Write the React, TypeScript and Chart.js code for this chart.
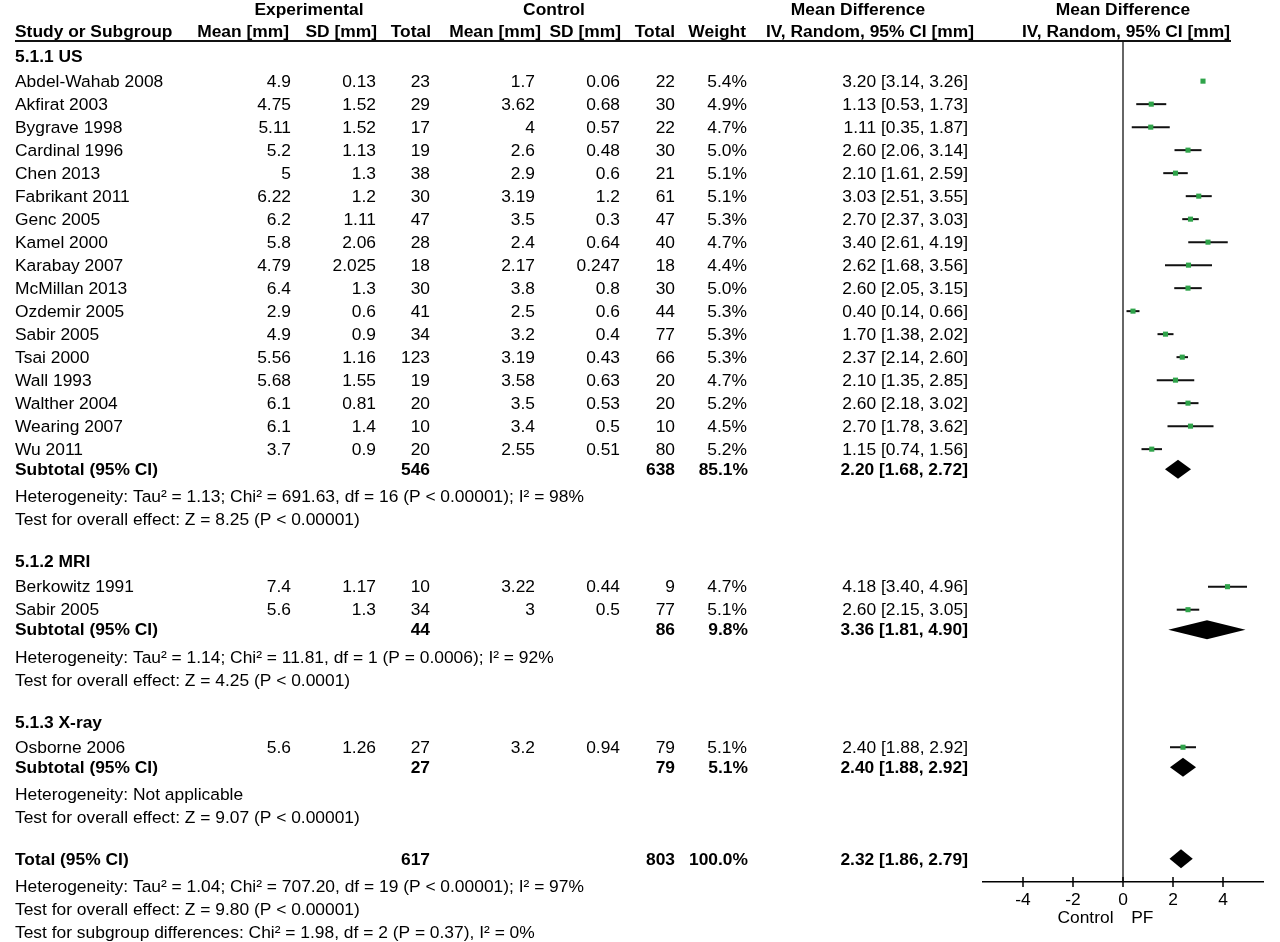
import React, { useEffect, useRef } from 'react';
import { Chart, registerables } from 'chart.js';

Chart.register(...registerables);

// ---------- data ----------
const STUDY_NAMES = [
  'Abdel-Wahab 2008', 'Akfirat 2003', 'Bygrave 1998', 'Cardinal 1996', 'Chen 2013',
  'Fabrikant 2011', 'Genc 2005', 'Kamel 2000', 'Karabay 2007', 'McMillan 2013',
  'Ozdemir 2005', 'Sabir 2005', 'Tsai 2000', 'Wall 1993', 'Walther 2004',
  'Wearing 2007', 'Wu 2011',
  'Berkowitz 1991', 'Sabir 2005',
  'Osborne 2006',
];
const STUDY_GROUP = [0, 0, 0, 0, 0, 0, 0, 0, 0, 0, 0, 0, 0, 0, 0, 0, 0, 1, 1, 2];
const EXP_MEAN = [4.9, 4.75, 5.11, 5.2, 5, 6.22, 6.2, 5.8, 4.79, 6.4, 2.9, 4.9, 5.56, 5.68, 6.1, 6.1, 3.7, 7.4, 5.6, 5.6];
const EXP_SD = [0.13, 1.52, 1.52, 1.13, 1.3, 1.2, 1.11, 2.06, 2.025, 1.3, 0.6, 0.9, 1.16, 1.55, 0.81, 1.4, 0.9, 1.17, 1.3, 1.26];
const EXP_TOTAL = [23, 29, 17, 19, 38, 30, 47, 28, 18, 30, 41, 34, 123, 19, 20, 10, 20, 10, 34, 27];
const CTRL_MEAN = [1.7, 3.62, 4, 2.6, 2.9, 3.19, 3.5, 2.4, 2.17, 3.8, 2.5, 3.2, 3.19, 3.58, 3.5, 3.4, 2.55, 3.22, 3, 3.2];
const CTRL_SD = [0.06, 0.68, 0.57, 0.48, 0.6, 1.2, 0.3, 0.64, 0.247, 0.8, 0.6, 0.4, 0.43, 0.63, 0.53, 0.5, 0.51, 0.44, 0.5, 0.94];
const CTRL_TOTAL = [22, 30, 22, 30, 21, 61, 47, 40, 18, 30, 44, 77, 66, 20, 20, 10, 80, 9, 77, 79];
const WEIGHT = [5.4, 4.9, 4.7, 5.0, 5.1, 5.1, 5.3, 4.7, 4.4, 5.0, 5.3, 5.3, 5.3, 4.7, 5.2, 4.5, 5.2, 4.7, 5.1, 5.1];
const MD = [3.2, 1.13, 1.11, 2.6, 2.1, 3.03, 2.7, 3.4, 2.62, 2.6, 0.4, 1.7, 2.37, 2.1, 2.6, 2.7, 1.15, 4.18, 2.6, 2.4];
const MD_LOW = [3.14, 0.53, 0.35, 2.06, 1.61, 2.51, 2.37, 2.61, 1.68, 2.05, 0.14, 1.38, 2.14, 1.35, 2.18, 1.78, 0.74, 3.4, 2.15, 1.88];
const MD_HIGH = [3.26, 1.73, 1.87, 3.14, 2.59, 3.55, 3.03, 4.19, 3.56, 3.15, 0.66, 2.02, 2.6, 2.85, 3.02, 3.62, 1.56, 4.96, 3.05, 2.92];

const GROUP_NAMES = ['5.1.1 US', '5.1.2 MRI', '5.1.3 X-ray'];
const SUB_EXP_TOTAL = [546, 44, 27];
const SUB_CTRL_TOTAL = [638, 86, 79];
const SUB_WEIGHT = [85.1, 9.8, 5.1];
const SUB_MD = [2.2, 3.36, 2.4];
const SUB_LOW = [1.68, 1.81, 1.88];
const SUB_HIGH = [2.72, 4.9, 2.92];
const SUB_HET = [
  'Heterogeneity: Tau² = 1.13; Chi² = 691.63, df = 16 (P < 0.00001); I² = 98%',
  'Heterogeneity: Tau² = 1.14; Chi² = 11.81, df = 1 (P = 0.0006); I² = 92%',
  'Heterogeneity: Not applicable',
];
const SUB_TEST = [
  'Test for overall effect: Z = 8.25 (P < 0.00001)',
  'Test for overall effect: Z = 4.25 (P < 0.0001)',
  'Test for overall effect: Z = 9.07 (P < 0.00001)',
];
const TOTAL_EXP = [617];
const TOTAL_CTRL = [803];
const TOTAL_WEIGHT = [100.0];
const TOTAL_MD = [2.32];
const TOTAL_LOW = [1.86];
const TOTAL_HIGH = [2.79];
const TOTAL_NOTES = [
  'Heterogeneity: Tau² = 1.04; Chi² = 707.20, df = 19 (P < 0.00001); I² = 97%',
  'Test for overall effect: Z = 9.80 (P < 0.00001)',
  'Test for subgroup differences: Chi² = 1.98, df = 2 (P = 0.37), I² = 0%',
];
const X_TICKS = [-4, -2, 0, 2, 4];
const AXIS_LABELS = ['Control', 'PF'];

// ---------- layout ----------
const FONT = '"Liberation Sans", Arial, Helvetica, sans-serif';
const FS = 17.4;
const TEXT_DY = 1;
const COL = { study: 15, eMean: 291, eSD: 376, eTot: 430, cMean: 535, cSD: 620, cTot: 675, weight: 747, ci: 968 };

type Row = { kind: string; v: number; i?: number; g?: number; text?: string };

function buildRows(): Row[] {
  const rows: Row[] = [];
  let v = -1.05;
  GROUP_NAMES.forEach((_, g) => {
    if (g > 0) v += 1.83;
    rows.push({ kind: 'title', v, g });
    let first = true;
    STUDY_NAMES.forEach((__, i) => {
      if (STUDY_GROUP[i] !== g) return;
      v += first ? 1.1 : 1;
      first = false;
      rows.push({ kind: 'study', v, i });
    });
    v += 0.87;
    rows.push({ kind: 'subtotal', v, g });
    v += 1.18;
    rows.push({ kind: 'note', v, text: SUB_HET[g] });
    v += 1;
    rows.push({ kind: 'note', v, text: SUB_TEST[g] });
  });
  v += 1.8;
  rows.push({ kind: 'total', v });
  TOTAL_NOTES.forEach((t, k) => {
    v += k === 0 ? 1.18 : 1;
    rows.push({ kind: 'note', v, text: t });
  });
  return rows;
}

const f2 = (n: number) => n.toFixed(2);
const ciText = (m: number, lo: number, hi: number) => `${f2(m)} [${f2(lo)}, ${f2(hi)}]`;
const pct = (w: number) => `${w.toFixed(1)}%`;

export default function App() {
  const ref = useRef<HTMLCanvasElement | null>(null);

  useEffect(() => {
    const canvas = ref.current;
    if (!canvas) return;
    const rows = buildRows();
    const studyRows = rows.filter((r) => r.kind === 'study');
    const diamondRows = rows.filter((r) => r.kind === 'subtotal' || r.kind === 'total');

    const ciSets = studyRows.map((r) => ({
      type: 'scatter' as const,
      showLine: true,
      data: [
        { x: MD_LOW[r.i!], y: r.v },
        { x: MD_HIGH[r.i!], y: r.v },
      ],
      borderColor: '#111',
      borderWidth: 2,
      pointRadius: 0,
      order: 2,
    }));

    const pointSet = {
      type: 'scatter' as const,
      data: studyRows.map((r) => ({ x: MD[r.i!], y: r.v })),
      pointStyle: 'rect',
      pointRadius: 3.6,
      backgroundColor: '#2fa34a',
      borderWidth: 0,
      order: 1,
    };

    const plugin = {
      id: 'forest',
      beforeDatasetsDraw(chart: any) {
        const { ctx, scales, chartArea } = chart;
        const x0 = scales.x.getPixelForValue(0);
        ctx.save();
        ctx.strokeStyle = '#333';
        ctx.lineWidth = 1.5;
        ctx.beginPath();
        ctx.moveTo(x0, scales.y.getPixelForValue(-1.7));
        ctx.lineTo(x0, chartArea.bottom);
        ctx.stroke();
        ctx.restore();
      },
      afterDatasetsDraw(chart: any) {
        const { ctx, scales } = chart;
        const xs = scales.x;
        const ys = scales.y;
        ctx.save();
        ctx.fillStyle = '#000';
        diamondRows.forEach((r) => {
          const isTotal = r.kind === 'total';
          const m = isTotal ? TOTAL_MD[0] : SUB_MD[r.g!];
          const lo = isTotal ? TOTAL_LOW[0] : SUB_LOW[r.g!];
          const hi = isTotal ? TOTAL_HIGH[0] : SUB_HIGH[r.g!];
          const y = ys.getPixelForValue(r.v);
          const h = 9.5;
          ctx.beginPath();
          ctx.moveTo(xs.getPixelForValue(lo), y);
          ctx.lineTo(xs.getPixelForValue(m), y - h);
          ctx.lineTo(xs.getPixelForValue(hi), y);
          ctx.lineTo(xs.getPixelForValue(m), y + h);
          ctx.closePath();
          ctx.fill();
        });
        ctx.restore();
      },
      afterDraw(chart: any) {
        const { ctx, scales, chartArea } = chart;
        const xs = scales.x;
        const ys = scales.y;
        const py = (v: number) => ys.getPixelForValue(v);
        ctx.save();
        ctx.fillStyle = '#000';
        ctx.textBaseline = 'middle';
        const txt = (s: string, x: number, y: number, align: CanvasTextAlign, bold = false) => {
          ctx.font = `${bold ? 'bold ' : ''}${FS}px ${FONT}`;
          ctx.textAlign = align;
          ctx.fillText(s, x, y + TEXT_DY);
        };

        // tick marks crossing the axis
        ctx.strokeStyle = '#000';
        ctx.lineWidth = 1.5;
        xs.ticks.forEach((t: any) => {
          const x = xs.getPixelForValue(t.value);
          ctx.beginPath();
          ctx.moveTo(x, chartArea.bottom - 5);
          ctx.lineTo(x, chartArea.bottom + 5);
          ctx.stroke();
        });

        // headers
        const h1 = py(-3.09);
        const h2 = py(-2.13);
        txt('Experimental', 309, h1, 'center', true);
        txt('Control', 554, h1, 'center', true);
        txt('Mean Difference', 858, h1, 'center', true);
        txt('Mean Difference', xs.getPixelForValue(0), h1, 'center', true);
        txt('Study or Subgroup', COL.study, h2, 'left', true);
        txt('Mean [mm]', 289, h2, 'right', true);
        txt('SD [mm]', 377, h2, 'right', true);
        txt('Total', 431, h2, 'right', true);
        txt('Mean [mm]', 541, h2, 'right', true);
        txt('SD [mm]', 621, h2, 'right', true);
        txt('Total', 675, h2, 'right', true);
        txt('Weight', 746, h2, 'right', true);
        txt('IV, Random, 95% CI [mm]', 870, h2, 'center', true);
        txt('IV, Random, 95% CI [mm]', xs.getPixelForValue(0.12), h2, 'center', true);

        // header rule
        ctx.strokeStyle = '#111';
        ctx.lineWidth = 2;
        ctx.beginPath();
        ctx.moveTo(15, py(-1.7));
        ctx.lineTo(1231, py(-1.7));
        ctx.stroke();

        rows.forEach((r) => {
          const y = py(r.v);
          if (r.kind === 'title') {
            txt(GROUP_NAMES[r.g!], COL.study, y, 'left', true);
          } else if (r.kind === 'study') {
            const i = r.i!;
            txt(STUDY_NAMES[i], COL.study, y, 'left');
            txt(String(EXP_MEAN[i]), COL.eMean, y, 'right');
            txt(String(EXP_SD[i]), COL.eSD, y, 'right');
            txt(String(EXP_TOTAL[i]), COL.eTot, y, 'right');
            txt(String(CTRL_MEAN[i]), COL.cMean, y, 'right');
            txt(String(CTRL_SD[i]), COL.cSD, y, 'right');
            txt(String(CTRL_TOTAL[i]), COL.cTot, y, 'right');
            txt(pct(WEIGHT[i]), COL.weight, y, 'right');
            txt(ciText(MD[i], MD_LOW[i], MD_HIGH[i]), COL.ci, y, 'right');
          } else if (r.kind === 'subtotal') {
            const g = r.g!;
            txt('Subtotal (95% CI)', COL.study, y, 'left', true);
            txt(String(SUB_EXP_TOTAL[g]), COL.eTot, y, 'right', true);
            txt(String(SUB_CTRL_TOTAL[g]), COL.cTot, y, 'right', true);
            txt(pct(SUB_WEIGHT[g]), COL.weight + 1, y, 'right', true);
            txt(ciText(SUB_MD[g], SUB_LOW[g], SUB_HIGH[g]), COL.ci, y, 'right', true);
          } else if (r.kind === 'total') {
            txt('Total (95% CI)', COL.study, y, 'left', true);
            txt(String(TOTAL_EXP[0]), COL.eTot, y, 'right', true);
            txt(String(TOTAL_CTRL[0]), COL.cTot, y, 'right', true);
            txt(pct(TOTAL_WEIGHT[0]), COL.weight + 1, y, 'right', true);
            txt(ciText(TOTAL_MD[0], TOTAL_LOW[0], TOTAL_HIGH[0]), COL.ci, y, 'right', true);
          } else if (r.kind === 'note') {
            txt(r.text!, COL.study, y, 'left');
          }
        });

        // axis side labels
        const ly = chartArea.bottom + 35;
        txt(AXIS_LABELS[0], xs.getPixelForValue(-1.5), ly, 'center');
        txt(AXIS_LABELS[1], xs.getPixelForValue(0.77), ly, 'center');
        ctx.restore();
      },
    };

    const chart = new Chart(canvas, {
      type: 'scatter',
      data: { datasets: [pointSet as any, ...(ciSets as any[])] },
      options: {
        responsive: false,
        animation: false,
        events: [],
        devicePixelRatio: 1,
        layout: { autoPadding: false, padding: { left: 983, right: 17, top: 0, bottom: 0 } },
        plugins: { legend: { display: false }, tooltip: { enabled: false } },
        scales: {
          x: {
            type: 'linear',
            min: -5.6,
            max: 5.6,
            position: 'bottom',
            grid: { display: false },
            border: { display: true, color: '#000', width: 1.5 },
            ticks: { color: '#000', font: { family: FONT, size: FS }, padding: 0 },
            afterBuildTicks: (s: any) => {
              s.ticks = X_TICKS.map((value) => ({ value }));
            },
            afterFit: (s: any) => {
              s.height = 60;
            },
          },
          y: {
            type: 'linear',
            display: false,
            reverse: true,
            min: -80 / 23,
            max: 802 / 23,
          },
        },
      },
      plugins: [plugin],
    } as any);

    return () => chart.destroy();
  }, []);

  return (
    <div style={{ position: 'absolute', left: 0, top: 0, width: 1280, height: 942, background: '#fff' }}>
      <canvas ref={ref} width={1280} height={942} style={{ display: 'block', width: 1280, height: 942 }} />
    </div>
  );
}
